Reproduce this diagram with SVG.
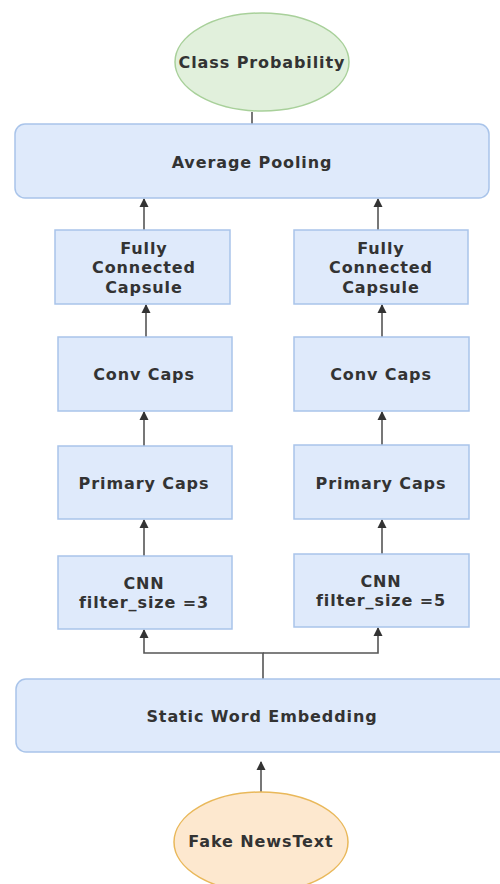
<svg xmlns="http://www.w3.org/2000/svg" width="500" height="884" viewBox="0 0 500 884">
  <defs>
    <marker id="arrow" markerWidth="10" markerHeight="10" refX="8" refY="5" orient="auto" markerUnits="userSpaceOnUse">
      <path d="M0,0.5 L9,5 L0,9.5 Z" fill="#333"/>
    </marker>
    <style>
      .box { fill: #dfeafb; stroke: #a9c4ea; stroke-width: 1.5; }
      .start { fill: #fde8cf; stroke: #e9b85a; stroke-width: 1.5; }
      .end { fill: #e1f0dc; stroke: #a8d09a; stroke-width: 1.5; }
      .lbl { font-family: "DejaVu Sans", Verdana, sans-serif; font-weight: bold; font-size: 16px; letter-spacing: 0.9px; fill: #333; text-anchor: middle; }
      .edge { fill: none; stroke: #555; stroke-width: 1.6; }
      .arr { marker-end: url(#arrow); }
    </style>
  </defs>
  <rect width="500" height="884" fill="#ffffff"/>

  <!-- connectors -->
  <g id="edges">
    <path class="edge" d="M252,112 L252,124"/>
    <path class="edge arr" d="M144,230 L144,199"/>
    <path class="edge arr" d="M378,230 L378,199"/>
    <path class="edge arr" d="M146,337 L146,305"/>
    <path class="edge arr" d="M382,337 L382,305"/>
    <path class="edge arr" d="M144,446 L144,412"/>
    <path class="edge arr" d="M382,445 L382,412"/>
    <path class="edge arr" d="M144,556 L144,520"/>
    <path class="edge arr" d="M382,554 L382,520"/>
    <path class="edge arr" d="M263,679 L263,653 L144,653 L144,630"/>
    <path class="edge arr" d="M263,653 L378,653 L378,628"/>
    <path class="edge arr" d="M261,792 L261,762"/>
  </g>

  <g id="class-probability">
    <ellipse class="end" cx="262" cy="62" rx="87" ry="49"/>
    <text class="lbl" x="262" y="68">Class Probability</text>
  </g>

  <g id="average-pooling">
    <rect class="box" x="15" y="124" width="474" height="74" rx="10"/>
    <text class="lbl" x="252" y="168">Average Pooling</text>
  </g>

  <g id="fc-capsule-left">
    <rect class="box" x="55" y="230" width="175" height="74"/>
    <text class="lbl" x="144" y="254">Fully</text>
    <text class="lbl" x="144" y="273">Connected</text>
    <text class="lbl" x="144" y="293">Capsule</text>
  </g>

  <g id="fc-capsule-right">
    <rect class="box" x="294" y="230" width="174" height="74"/>
    <text class="lbl" x="381" y="254">Fully</text>
    <text class="lbl" x="381" y="273">Connected</text>
    <text class="lbl" x="381" y="293">Capsule</text>
  </g>

  <g id="conv-caps-left">
    <rect class="box" x="58" y="337" width="174" height="74"/>
    <text class="lbl" x="144" y="380">Conv Caps</text>
  </g>

  <g id="conv-caps-right">
    <rect class="box" x="294" y="337" width="175" height="74"/>
    <text class="lbl" x="381" y="380">Conv Caps</text>
  </g>

  <g id="primary-caps-left">
    <rect class="box" x="58" y="446" width="174" height="73"/>
    <text class="lbl" x="144" y="489">Primary Caps</text>
  </g>

  <g id="primary-caps-right">
    <rect class="box" x="294" y="445" width="175" height="74"/>
    <text class="lbl" x="381" y="489">Primary Caps</text>
  </g>

  <g id="cnn-left">
    <rect class="box" x="58" y="556" width="174" height="73"/>
    <text class="lbl" x="144" y="589">CNN</text>
    <text class="lbl" x="144" y="608">filter_size =3</text>
  </g>

  <g id="cnn-right">
    <rect class="box" x="294" y="554" width="175" height="73"/>
    <text class="lbl" x="381" y="587">CNN</text>
    <text class="lbl" x="381" y="606">filter_size =5</text>
  </g>

  <g id="static-word-embedding">
    <rect class="box" x="16" y="679" width="500" height="73" rx="10"/>
    <text class="lbl" x="262" y="722">Static Word Embedding</text>
  </g>

  <g id="fake-news-text">
    <ellipse class="start" cx="261" cy="842" rx="87" ry="50"/>
    <text class="lbl" x="261" y="847">Fake NewsText</text>
  </g>
</svg>
